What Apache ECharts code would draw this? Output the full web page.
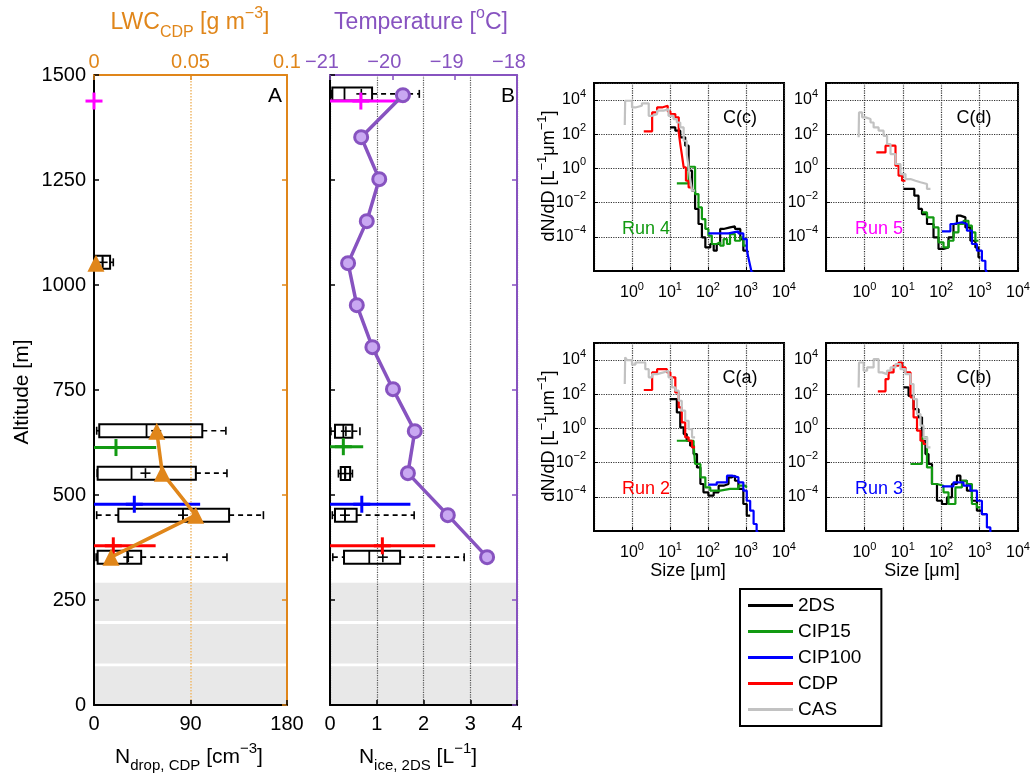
<!DOCTYPE html>
<html><head><meta charset="utf-8">
<script src="https://cdn.jsdelivr.net/npm/echarts@6/dist/echarts.min.js"></script>
<style>html,body{margin:0;padding:0;background:#fff}#c{width:1033px;height:783px}</style>
</head><body><div id="c"></div>
<script>
// ================= DATA =================
// Vertical profile (panels A, B)
const profileAlt = [1452, 1352, 1252, 1152, 1052, 952, 852, 752, 652, 552, 452, 352];
const temperature = [-19.83, -20.50, -20.21, -20.41, -20.71, -20.57, -20.32, -19.99, -19.64, -19.75, -19.11, -18.48];
const lwcCDP = [null, null, null, null, 0.001, null, null, null, 0.0325, 0.0354, 0.0527, 0.0088];

// Box statistics, panel A (N_drop,CDP, cm^-3)
const boxAltA  = [1054, 653, 552, 452, 352];
const nDropMin = [0.3, 2.5, 3.0, 2.5, 2.0];
const nDropQ1  = [1.0, 4.9, 3.4, 22.7, 3.4];
const nDropMed = [8, 49, 35, 83, 31];
const nDropQ3  = [15, 101, 95, 126, 44];
const nDropMax = [18, 123, 124, 158, 124];
const nDropMean= [8, 58, 48, 83, 32];

// Box statistics, panel B (N_ice,2DS, L^-1)
const boxAltB = [1455, 652, 551, 452, 352];
const nIceMin = [0.04, 0.02, 0.18, 0.05, 0.06];
const nIceQ1  = [0.05, 0.107, 0.23, 0.107, 0.30];
const nIceMed = [0.31, 0.285, 0.32, 0.32, 0.84];
const nIceQ3  = [0.90, 0.477, 0.43, 0.57, 1.50];
const nIceMax = [1.91, 0.64, 0.48, 1.80, 2.87];
const nIceMean= [0.67, 0.34, 0.33, 0.32, 1.13];

// Run means with spread
const runNames = ['Run 5', 'Run 4', 'Run 3', 'Run 2'];
const runAltA = [1438, 613, 478, 379];
const nDropRunMean = [0, 20.5, 37.6, 18];
const nDropRunLo   = [0, 0, 0, 0];
const nDropRunHi   = [0, 58, 99, 57.5];
const runAltB = [1438, 615, 478, 379];
const nIceRunMean = [0.66, 0.285, 0.68, 1.12];
const nIceRunLo   = [0, 0, 0, 0];
const nIceRunHi   = [1.62, 0.71, 1.72, 2.25];

// Shaded altitude bands (m)
const bandLo = [0, 99, 200];
const bandHi = [92, 193, 291];

// Size distributions: [log10(D / um), log10(dN/dD / L^-1 um^-1)]
const psdC_2DS = [[1.0,2.40],[1.14,2.21],[1.27,1.82],[1.40,1.33],[1.49,-0.13],[1.58,-1.30],[1.66,-2.37],[1.75,-3.25],[1.84,-4.03],[1.93,-4.62],[2.06,-4.42],[2.15,-4.81],[2.23,-4.42],[2.32,-3.54],[2.41,-3.45],[2.58,-3.39],[2.71,-3.54],[2.85,-4.13],[2.93,-4.81],[3.02,-4.91],[3.06,-4.91]];
const psdC_CIP15 = [[1.18,-0.87],[1.49,0.10],[1.66,-1.50],[1.75,-2.28],[1.84,-2.96],[1.93,-3.54],[2.01,-3.93],[2.10,-4.42],[2.23,-4.32],[2.32,-4.52],[2.41,-4.13],[2.50,-4.42],[2.58,-3.84],[2.71,-4.23],[2.85,-4.03],[2.93,-4.52],[3.02,-4.52]];
const psdC_CIP100 = [[2.01,-3.80],[2.54,-3.74],[2.67,-3.68],[2.80,-3.80],[2.93,-4.13],[3.02,-4.71],[3.06,-5.20],[3.11,-5.69],[3.15,-6.10],[3.20,-6.10]];
const psdC_CDP = [[0.31,2.17],[0.53,3.28],[0.66,3.57],[0.79,3.67],[0.94,3.34],[1.01,3.18],[1.14,2.99],[1.23,2.11],[1.27,1.43],[1.31,0.84],[1.36,0.06],[1.42,-0.72],[1.49,-1.11],[1.58,-1.11]];
const psdC_CAS = [[-0.19,2.54],[-0.18,3.96],[0.0,3.57],[0.09,3.67],[0.26,3.81],[0.44,3.08],[0.53,3.18],[0.66,3.38],[0.83,3.47],[0.96,3.08],[1.09,2.89],[1.18,2.69],[1.27,2.40],[1.36,1.62],[1.44,0.84],[1.49,0.06],[1.53,-0.62],[1.58,-1.30],[1.66,-1.30]];

const psdD_2DS = [[1.02,-1.20],[1.30,-1.59],[1.41,-2.37],[1.50,-2.67],[1.63,-3.25],[1.80,-4.03],[1.93,-4.71],[2.06,-4.62],[2.19,-4.03],[2.32,-3.25],[2.41,-2.76],[2.50,-2.86],[2.63,-3.45],[2.76,-4.23],[2.89,-4.62],[2.97,-5.20],[3.02,-5.20]];
const psdD_CIP15 = [[1.50,-2.57],[1.63,-2.86],[1.80,-3.45],[1.93,-4.32],[2.06,-4.62],[2.19,-4.23],[2.32,-3.74],[2.45,-3.25],[2.58,-3.06],[2.71,-3.35],[2.80,-3.74],[2.89,-4.23],[2.97,-4.23]];
const psdD_CIP100 = [[2.02,-3.68],[2.24,-3.25],[2.32,-3.15],[2.54,-3.25],[2.67,-3.64],[2.80,-4.42],[2.93,-4.81],[3.06,-5.40],[3.15,-5.90],[3.19,-6.10]];
const psdD_CDP = [[0.31,0.94],[0.55,1.33],[0.81,0.16],[0.89,-0.42],[0.98,-0.72],[1.07,-0.72]];
const psdD_CAS = [[-0.15,1.82],[-0.14,3.28],[-0.06,2.99],[0.03,2.89],[0.16,2.69],[0.24,2.40],[0.37,2.21],[0.50,1.91],[0.59,1.43],[0.68,0.84],[0.81,0.26],[0.94,-0.33],[1.07,-0.62],[1.20,-0.72],[1.33,-0.81],[1.46,-0.91],[1.63,-1.20],[1.72,-1.20]];

const psdA_2DS = [[0.99,1.72],[1.18,0.94],[1.27,0.06],[1.36,-0.33],[1.44,-0.72],[1.53,-1.01],[1.62,-1.50],[1.71,-2.28],[1.80,-3.25],[1.88,-3.74],[2.01,-3.93],[2.15,-3.74],[2.28,-3.35],[2.41,-3.25],[2.54,-2.86],[2.63,-2.76],[2.71,-3.06],[2.80,-3.54],[2.93,-4.42],[3.02,-5.10],[3.11,-5.10]];
const psdA_CIP15 = [[1.18,-0.72],[1.62,-0.91],[1.66,-2.08],[1.80,-2.86],[1.93,-3.45],[2.06,-3.64],[2.32,-3.54],[2.58,-3.54],[2.80,-3.35],[2.98,-3.45],[3.02,-3.45]];
const psdA_CIP100 = [[2.01,-3.29],[2.23,-3.15],[2.50,-2.76],[2.63,-2.86],[2.80,-3.15],[2.93,-3.64],[3.02,-4.23],[3.11,-4.81],[3.20,-5.59],[3.28,-6.08],[3.33,-6.08]];
const psdA_CDP = [[0.31,2.25],[0.53,3.28],[0.66,3.47],[0.92,3.28],[1.01,2.99],[1.14,2.11],[1.23,1.23],[1.31,0.35],[1.40,-0.52],[1.49,-0.72],[1.58,-1.11],[1.66,-1.11]];
const psdA_CAS = [[-0.19,2.60],[-0.18,4.16],[-0.13,4.0],[0.0,3.73],[0.09,3.86],[0.35,3.47],[0.44,2.99],[0.53,3.18],[0.66,3.28],[0.83,3.38],[0.96,2.99],[1.05,2.40],[1.14,2.21],[1.23,1.62],[1.31,1.04],[1.40,0.45],[1.49,-0.04],[1.58,-0.52],[1.66,-0.52]];

const psdB_2DS = [[1.02,2.40],[1.15,1.91],[1.28,1.13],[1.41,0.65],[1.50,-0.72],[1.59,-1.50],[1.67,-2.08],[1.76,-3.25],[1.89,-4.23],[2.02,-4.42],[2.15,-4.03],[2.28,-3.25],[2.41,-2.76],[2.50,-3.06],[2.67,-3.64],[2.80,-4.23],[2.93,-4.81],[3.06,-5.01],[3.15,-5.01]];
const psdB_CIP15 = [[1.20,-2.08],[1.50,-0.52],[1.63,-2.28],[1.76,-3.25],[1.89,-3.35],[2.06,-3.74],[2.19,-4.42],[2.37,-3.45],[2.54,-3.06],[2.67,-3.25],[2.80,-4.42],[2.93,-4.62],[3.02,-4.62]];
const psdB_CIP100 = [[2.02,-3.39],[2.32,-3.15],[2.58,-3.35],[2.76,-3.64],[2.93,-4.23],[3.06,-5.01],[3.19,-5.79],[3.28,-6.08],[3.30,-6.08]];
const psdB_CDP = [[0.35,2.17],[0.55,2.89],[0.63,3.28],[0.76,3.67],[0.89,3.86],[0.98,3.57],[1.07,3.28],[1.20,1.82],[1.28,0.65],[1.37,-0.13],[1.46,-0.72],[1.54,-0.91],[1.63,-0.91]];
const psdB_CAS = [[-0.15,2.40],[-0.14,3.86],[-0.02,3.38],[0.07,3.57],[0.24,4.06],[0.37,3.28],[0.46,3.18],[0.59,3.38],[0.68,3.57],[0.81,3.77],[0.94,3.47],[1.07,3.18],[1.20,2.60],[1.28,1.72],[1.37,0.84],[1.46,0.16],[1.54,-0.52],[1.63,-1.11],[1.72,-1.11]];

const instruments = ['2DS', 'CIP15', 'CIP100', 'CDP', 'CAS'];
const panelTitles = ['C(c)', 'C(d)', 'C(a)', 'C(b)'];
const panelRuns = ['Run 4', 'Run 5', 'Run 2', 'Run 3'];
const panelPsd = [
  [psdC_2DS, psdC_CIP15, psdC_CIP100, psdC_CDP, psdC_CAS],
  [psdD_2DS, psdD_CIP15, psdD_CIP100, psdD_CDP, psdD_CAS],
  [psdA_2DS, psdA_CIP15, psdA_CIP100, psdA_CDP, psdA_CAS],
  [psdB_2DS, psdB_CIP15, psdB_CIP100, psdB_CDP, psdB_CAS]
];

// ================= STYLE =================
const FONT = '"Liberation Sans", Arial, Helvetica, sans-serif';
const ORANGE = '#E0861A', PURPLE = '#8753C0', PURPLE_FILL = '#C9A8F2';
const GREEN = '#129A12';
const instColor = {'2DS': '#000000', 'CIP15': GREEN, 'CIP100': '#0000FF', 'CDP': '#FF0000', 'CAS': '#C2C2C2'};
const runColor = {'Run 5': '#FF00FF', 'Run 4': GREEN, 'Run 3': '#0000FF', 'Run 2': '#FF0000'};
const MINUS = '\u2212';

const chart = echarts.init(document.getElementById('c'), null, {renderer: 'canvas'});

const cGrids = [
  {left: 594, top: 83, width: 190, height: 188},
  {left: 826, top: 83, width: 192, height: 188},
  {left: 594, top: 343, width: 190, height: 188},
  {left: 826, top: 343, width: 192, height: 188}
];

function powLabel(allowed) {
  return function (v) {
    const e = Math.round(Math.log10(v));
    if (allowed.indexOf(e) < 0) return '';
    return '{b|10}{s|' + (e < 0 ? MINUS : '') + Math.abs(e) + '}';
  };
}
const powRich = {
  b: {fontSize: 16, lineHeight: 24, fontFamily: FONT, color: '#000'},
  s: {fontSize: 11, lineHeight: 11, verticalAlign: 'top', fontFamily: FONT, color: '#000'}
};

function axisBase(color, extra) {
  return Object.assign({
    axisLine: {onZero: false, lineStyle: {color: color, width: 2}},
    axisTick: {inside: true, length: 5, lineStyle: {color: color, width: 1.5}},
    splitLine: {show: false}
  }, extra);
}

const xAxes = [
  axisBase('#000', {gridIndex: 0, type: 'value', min: 0, max: 180, interval: 90, position: 'bottom',
    axisLabel: {fontSize: 20, color: '#000', margin: 9, fontFamily: FONT, formatter: v => String(v)}}),
  axisBase(ORANGE, {gridIndex: 0, type: 'value', min: 0, max: 0.1, interval: 0.05, position: 'top',
    axisLabel: {fontSize: 20, color: ORANGE, margin: 3, fontFamily: FONT, formatter: v => String(v)},
    splitLine: {show: true, lineStyle: {color: '#F0B868', type: 'dotted', width: 1.5}}}),
  axisBase('#000', {gridIndex: 1, type: 'value', min: 0, max: 4, interval: 1, position: 'bottom',
    axisLabel: {fontSize: 20, color: '#000', margin: 9, fontFamily: FONT},
    splitLine: {show: true, lineStyle: {color: '#555', type: 'dotted', width: 1.2}}}),
  axisBase(PURPLE, {gridIndex: 1, type: 'value', min: -21, max: -18, interval: 1, position: 'top',
    axisLabel: {fontSize: 20, color: PURPLE, margin: 3, fontFamily: FONT, padding: [0, 16, 0, 0],
      formatter: v => (v < 0 ? MINUS : '') + Math.abs(v)}})
];
const yAxes = [
  axisBase('#000', {gridIndex: 0, type: 'value', min: 0, max: 1500, interval: 250, position: 'left',
    axisLabel: {fontSize: 20, color: '#000', margin: 8, fontFamily: FONT, formatter: v => String(v)}}),
  axisBase(ORANGE, {gridIndex: 0, type: 'value', min: 0, max: 1500, interval: 250, position: 'right',
    axisLabel: {show: false}}),
  axisBase('#000', {gridIndex: 1, type: 'value', min: 0, max: 1500, interval: 250, position: 'left',
    axisLabel: {show: false}}),
  axisBase(PURPLE, {gridIndex: 1, type: 'value', min: 0, max: 1500, interval: 250, position: 'right',
    axisLabel: {show: false}})
];
cGrids.forEach((g, i) => {
  xAxes.push(axisBase('#000', {gridIndex: 2 + i, type: 'log', logBase: 10, min: 0.1, max: 10000, interval: 1,
    position: 'bottom', axisTick: {inside: true, length: 4, lineStyle: {color: '#000', width: 1}},
    axisLabel: {formatter: powLabel([0, 1, 2, 3, 4]), rich: powRich, margin: 10},
    splitLine: {show: true, lineStyle: {color: '#333', type: 'dotted', width: 1.2}}}));
  yAxes.push(axisBase('#000', {gridIndex: 2 + i, type: 'log', logBase: 10, min: 1e-6, max: 1e5, interval: 2,
    position: 'left', axisTick: {inside: true, length: 4, lineStyle: {color: '#000', width: 1}},
    axisLabel: {formatter: powLabel([-4, -2, 0, 2, 4]), rich: powRich, margin: 8},
    splitLine: {show: true, lineStyle: {color: '#333', type: 'dotted', width: 1.2}}}));
});

// ---- custom renderers ----
function bandRender(params, api) {
  const cs = params.coordSys;
  const pLo = api.coord([0, api.value(0)]);
  const pHi = api.coord([0, api.value(1)]);
  return {type: 'rect', shape: {x: cs.x, y: pHi[1], width: cs.width, height: pLo[1] - pHi[1]},
    style: {fill: '#E8E8E8'}};
}
function boxRender(params, api) {
  const alt = api.value(0);
  const P = k => api.coord([api.value(k), alt]);
  const pMin = P(1), pQ1 = P(2), pMed = P(3), pQ3 = P(4), pMax = P(5), pMean = P(6);
  const y = pMed[1], h = 13, cap = 8;
  const blk = {stroke: '#000', lineWidth: 1.6};
  const dash = {stroke: '#000', lineWidth: 1.6, lineDash: [5, 4]};
  return {type: 'group', children: [
    {type: 'line', shape: {x1: pMin[0], y1: y, x2: pQ1[0], y2: y}, style: dash},
    {type: 'line', shape: {x1: pQ3[0], y1: y, x2: pMax[0], y2: y}, style: dash},
    {type: 'line', shape: {x1: pMin[0], y1: y - cap / 2, x2: pMin[0], y2: y + cap / 2}, style: blk},
    {type: 'line', shape: {x1: pMax[0], y1: y - cap / 2, x2: pMax[0], y2: y + cap / 2}, style: blk},
    {type: 'rect', shape: {x: pQ1[0], y: y - h / 2, width: pQ3[0] - pQ1[0], height: h},
      style: {fill: 'none', stroke: '#000', lineWidth: 2}},
    {type: 'line', shape: {x1: pMed[0], y1: y - h / 2, x2: pMed[0], y2: y + h / 2}, style: {stroke: '#000', lineWidth: 1.8}},
    {type: 'line', shape: {x1: pMean[0] - 5, y1: y, x2: pMean[0] + 5, y2: y}, style: blk},
    {type: 'line', shape: {x1: pMean[0], y1: y - 5, x2: pMean[0], y2: y + 5}, style: blk}
  ]};
}
function runRender(params, api) {
  const alt = api.value(0);
  const pM = api.coord([api.value(1), alt]);
  const pL = api.coord([api.value(2), alt]);
  const pH = api.coord([api.value(3), alt]);
  const col = runColor[runNames[params.dataIndex]];
  const half = 8.5, y = pM[1];
  return {type: 'group', children: [
    {type: 'line', shape: {x1: pL[0], y1: y, x2: pH[0], y2: y}, style: {stroke: col, lineWidth: 3}},
    {type: 'line', shape: {x1: pM[0] - half, y1: y, x2: pM[0] + half, y2: y}, style: {stroke: col, lineWidth: 3}},
    {type: 'line', shape: {x1: pM[0], y1: y - half, x2: pM[0], y2: y + half}, style: {stroke: col, lineWidth: 3}}
  ]};
}

const bandData = bandLo.map((lo, i) => [lo, bandHi[i]]);
const boxDataA = boxAltA.map((a, i) => [a, nDropMin[i], nDropQ1[i], nDropMed[i], nDropQ3[i], nDropMax[i], nDropMean[i]]);
const boxDataB = boxAltB.map((a, i) => [a, nIceMin[i], nIceQ1[i], nIceMed[i], nIceQ3[i], nIceMax[i], nIceMean[i]]);
const runDataA = runAltA.map((a, i) => [a, nDropRunMean[i], nDropRunLo[i], nDropRunHi[i]]);
const runDataB = runAltB.map((a, i) => [a, nIceRunMean[i], nIceRunLo[i], nIceRunHi[i]]);

const series = [
  {type: 'custom', name: 'bandA', xAxisIndex: 0, yAxisIndex: 0, z: -1, silent: true, renderItem: bandRender,
    data: bandData, encode: {y: [0, 1]}},
  {type: 'custom', name: 'bandB', xAxisIndex: 2, yAxisIndex: 2, z: -1, silent: true, renderItem: bandRender,
    data: bandData, encode: {y: [0, 1]}},
  {type: 'custom', name: 'boxA', xAxisIndex: 0, yAxisIndex: 0, z: 3, renderItem: boxRender, data: boxDataA,
    encode: {x: [1, 2, 3, 4, 5, 6], y: 0}},
  {type: 'custom', name: 'runA', xAxisIndex: 0, yAxisIndex: 0, z: 4, renderItem: runRender, data: runDataA,
    encode: {x: [1, 2, 3], y: 0}},
  {type: 'line', name: 'LWC', xAxisIndex: 1, yAxisIndex: 0, z: 5,
    data: profileAlt.map((a, i) => [lwcCDP[i] == null ? '-' : lwcCDP[i], a]),
    connectNulls: false, symbol: 'triangle', symbolSize: 17, showAllSymbol: true,
    itemStyle: {color: ORANGE}, lineStyle: {color: ORANGE, width: 3.5}},
  {type: 'custom', name: 'boxB', xAxisIndex: 2, yAxisIndex: 2, z: 3, renderItem: boxRender, data: boxDataB,
    encode: {x: [1, 2, 3, 4, 5, 6], y: 0}},
  {type: 'custom', name: 'runB', xAxisIndex: 2, yAxisIndex: 2, z: 4, renderItem: runRender, data: runDataB,
    encode: {x: [1, 2, 3], y: 0}},
  {type: 'line', name: 'Temperature', xAxisIndex: 3, yAxisIndex: 2, z: 5,
    data: profileAlt.map((a, i) => [temperature[i], a]),
    symbol: 'circle', symbolSize: 13, showAllSymbol: true,
    itemStyle: {color: PURPLE_FILL, borderColor: PURPLE, borderWidth: 3},
    lineStyle: {color: PURPLE, width: 3.5}}
];
panelPsd.forEach((sets, p) => {
  sets.forEach((pts, k) => {
    const name = instruments[k];
    series.push({type: 'line', name: name, xAxisIndex: 4 + p, yAxisIndex: 4 + p, z: 3 + k,
      step: 'end', symbol: 'none', showSymbol: false, clip: true,
      color: instColor[name], lineStyle: {color: instColor[name], width: 2.2},
      data: pts.map(q => [Math.pow(10, q[0]), Math.pow(10, q[1])])});
  });
});

// ---- texts ----
function T(x, y, text, opt) {
  opt = opt || {};
  const color = opt.color || '#000';
  const fs = opt.fontSize || 20;
  const sfs = Math.round(fs * 0.7);
  const rich = {
    b: {fontSize: fs, lineHeight: Math.round(fs * 1.5), fontFamily: FONT, fill: color, color: color},
    sup: {fontSize: sfs, lineHeight: sfs, verticalAlign: 'top', fontFamily: FONT, fill: color, color: color},
    sub: {fontSize: sfs, lineHeight: sfs, verticalAlign: 'bottom', fontFamily: FONT, fill: color, color: color}
  };
  return {type: 'text', x: x, y: y, rotation: opt.rotation || 0, silent: true, z: 100,
    style: {text: text, rich: rich, fill: color, font: fs + 'px ' + FONT, align: 'center', verticalAlign: 'middle'}};
}
const graphics = [
  T(190, 23, '{b|LWC}{sub|CDP}{b| [g m}{sup|' + MINUS + '3}{b|]}', {color: ORANGE, fontSize: 23}),
  T(421, 23, '{b|Temperature [}{sup|o}{b|C]}', {color: PURPLE, fontSize: 23}),
  T(22, 392, '{b|Altitude [m]}', {rotation: Math.PI / 2, fontSize: 21}),
  T(189, 757, '{b|N}{sub|drop, CDP}{b| [cm}{sup|' + MINUS + '3}{b|]}', {fontSize: 21}),
  T(418, 757, '{b|N}{sub|ice, 2DS}{b| [L}{sup|' + MINUS + '1}{b|]}', {fontSize: 21}),
  T(275, 96, '{b|A}', {fontSize: 21}),
  T(508, 96, '{b|B}', {fontSize: 21}),
  T(688, 571, '{b|Size [μm]}', {fontSize: 18}),
  T(922, 571, '{b|Size [μm]}', {fontSize: 18}),
  T(549, 176, '{b|dN/dD [L}{sup|' + MINUS + '1}{b|μm}{sup|' + MINUS + '1}{b|]}', {rotation: Math.PI / 2, fontSize: 18}),
  T(549, 436, '{b|dN/dD [L}{sup|' + MINUS + '1}{b|μm}{sup|' + MINUS + '1}{b|]}', {rotation: Math.PI / 2, fontSize: 18})
];
const titlePos = [[740, 118], [974, 118], [740, 378], [974, 378]];
const runPos = [[646, 229], [879, 229], [646, 489], [879, 489]];
panelTitles.forEach((t, i) => {
  graphics.push(T(titlePos[i][0], titlePos[i][1], '{b|' + t + '}', {fontSize: 18}));
  graphics.push(T(runPos[i][0], runPos[i][1], '{b|' + panelRuns[i] + '}', {fontSize: 18, color: runColor[panelRuns[i]]}));
});

const grids = [
  {left: 94, top: 75, width: 193, height: 630},
  {left: 330, top: 75, width: 187, height: 630}
].concat(cGrids.map(g => Object.assign({show: true, borderColor: '#000', borderWidth: 2, backgroundColor: 'transparent'}, g)));
grids.forEach(g => { g.containLabel = false; g.outerBoundsMode = 'none'; });

chart.setOption({
  animation: false,
  backgroundColor: '#fff',
  textStyle: {fontFamily: FONT},
  grid: grids,
  xAxis: xAxes,
  yAxis: yAxes,
  legend: {
    data: instruments, orient: 'vertical', left: 740, top: 589, icon: 'rect',
    itemWidth: 45, itemHeight: 3, itemGap: 7, padding: [7, 20, 7, 8],
    borderColor: '#000', borderWidth: 2, backgroundColor: '#fff', selectedMode: false,
    textStyle: {fontSize: 19, color: '#000', fontFamily: FONT}
  },
  graphic: graphics,
  series: series
});
</script>
</body></html>
